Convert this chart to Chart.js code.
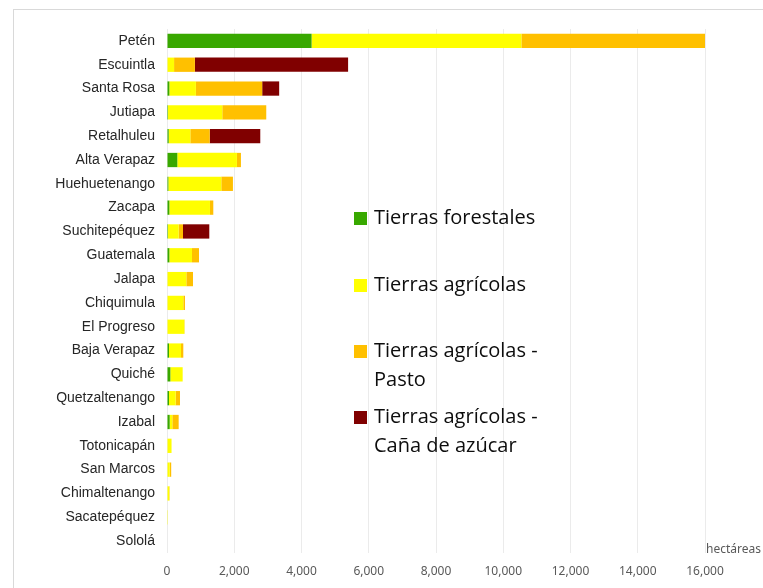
<!DOCTYPE html>
<html>
<head>
<meta charset="utf-8">
<script src="https://cdn.jsdelivr.net/npm/chart.js@4"></script>
<style>
  body { margin: 0; background: #fff; }
  #wrap { position: relative; width: 763px; height: 588px; }
  #frame { position: absolute; left: 13px; top: 9px; right: 0; bottom: 0;
           border-left: 1px solid #d9d9d9; border-top: 1px solid #d9d9d9; }
  canvas { position: absolute; left: 0; top: 0; }
</style>
</head>
<body>
<div id="wrap">
  <div id="frame"></div>
  <canvas id="chart" width="763" height="588"></canvas>
</div>
<script>
const departamentos = ["Petén", "Escuintla", "Santa Rosa", "Jutiapa", "Retalhuleu", "Alta Verapaz",
  "Huehuetenango", "Zacapa", "Suchitepéquez", "Guatemala", "Jalapa", "Chiquimula", "El Progreso",
  "Baja Verapaz", "Quiché", "Quetzaltenango", "Izabal", "Totonicapán", "San Marcos",
  "Chimaltenango", "Sacatepéquez", "Sololá"];

const forestales = [4300, 0, 70, 30, 50, 307, 40, 70, 30, 70, 0, 0, 0, 60, 100, 60, 80, 0, 0, 0, 0, 0];
const agricolas  = [6240, 210, 790, 1614, 644, 1773, 1575, 1208, 317, 673, 575, 485, 515, 356, 366, 198, 78, 135, 80, 65, 5, 0];
const pasto      = [5497, 620, 1971, 1308, 576, 119, 346, 99, 129, 208, 198, 50, 10, 69, 0, 128, 189, 0, 45, 12, 0, 0];
const cana       = [0, 4556, 505, 0, 1504, 0, 0, 0, 782, 0, 0, 0, 0, 0, 0, 0, 0, 0, 0, 0, 0, 0];

const xTicks = [0, 2000, 4000, 6000, 8000, 10000, 12000, 14000, 16000];

const legendPlugin = {
  id: "sideLegend",
  afterDraw(chart) {
    const c = chart.ctx;
    const tops = [218, 285, 351, 417];
    c.save();
    c.textBaseline = "middle";
    chart.data.datasets.forEach((ds, i) => {
      c.fillStyle = ds.backgroundColor;
      c.fillRect(354, tops[i] - 6, 13, 13);
      c.fillStyle = "#0d0d0d";
      c.font = "20px 'Open Sans'";
      ds.label.split("\n").forEach((line, j) => {
        c.fillText(line, 374, tops[i] + j * 29);
      });
    });
    c.fillStyle = "#595959";
    c.font = "12px 'Noto Sans'";
    c.fillText("hectáreas", 706, 550);
    c.restore();
  }
};

new Chart(document.getElementById("chart"), {
  type: "bar",
  data: {
    labels: departamentos,
    datasets: [
      { label: "Tierras forestales", data: forestales, backgroundColor: "#38a800" },
      { label: "Tierras agrícolas", data: agricolas, backgroundColor: "#ffff00" },
      { label: "Tierras agrícolas -\nPasto", data: pasto, backgroundColor: "#ffc000" },
      { label: "Tierras agrícolas -\nCaña de azúcar", data: cana, backgroundColor: "#800000" },
    ],
  },
  options: {
    indexAxis: "y",
    responsive: false,
    animation: false,
    barPercentage: 0.6,
    categoryPercentage: 1,
    layout: { padding: { top: 29, right: 58, left: 0, bottom: 0 } },
    plugins: { legend: { display: false }, tooltip: { enabled: false } },
    scales: {
      x: {
        stacked: true,
        min: 0,
        max: 16000,
        afterBuildTicks: (s) => { s.ticks = xTicks.map((v) => ({ value: v })); },
        afterFit: (s) => { s.height = 35; },
        grid: { color: "#ebebeb", drawTicks: false },
        border: { display: false },
        ticks: {
          padding: 11,
          color: "#595959",
          font: { family: "'Noto Sans'", size: 12 },
          callback: (v) => v.toLocaleString("en-US"),
        },
      },
      y: {
        stacked: true,
        afterFit: (s) => { s.width = 167; },
        grid: { display: false, drawTicks: false },
        border: { display: false },
        ticks: {
          padding: 12,
          color: "#262626",
          font: { family: "'Liberation Sans'", size: 14 },
        },
      },
    },
  },
  plugins: [legendPlugin],
});
</script>
</body>
</html>
